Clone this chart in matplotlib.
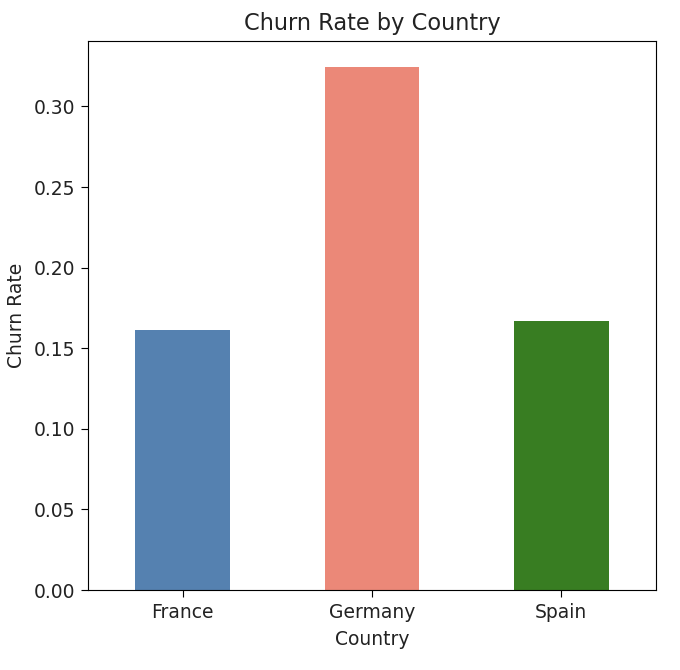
import matplotlib
matplotlib.use("Agg")
import matplotlib.pyplot as plt

countries = ["France", "Germany", "Spain"]
churn_rate = [0.1615, 0.3244, 0.1667]
colors = ["#5581b0", "#eb8878", "#387d22"]
yticks = [0.0, 0.05, 0.10, 0.15, 0.20, 0.25, 0.30]

DPI = 135
plt.rcParams["axes.linewidth"] = 0.6
plt.rcParams["xtick.major.width"] = 0.6
plt.rcParams["ytick.major.width"] = 0.6
plt.rcParams["text.color"] = "#222222"
plt.rcParams["axes.labelcolor"] = "#222222"
plt.rcParams["xtick.labelcolor"] = "#222222"
plt.rcParams["ytick.labelcolor"] = "#222222"

fig = plt.figure(figsize=(680 / DPI, 670 / DPI), dpi=DPI)
ax = fig.add_axes([88/680, 1 - 590/670, (656-88)/680, (590-41)/670])
x = list(range(len(countries)))
ax.bar(x, churn_rate, width=0.5, color=colors)
ax.set_xlim(-0.5, len(countries) - 0.5)
ax.set_ylim(0, max(churn_rate) * 1.05)
ax.set_xticks(x)
ax.set_xticklabels(countries, rotation=0)
ax.set_yticks(yticks)
ax.set_yticklabels([f"{v:.2f}" for v in yticks])
ax.set_xlabel("Country")
ax.set_ylabel("Churn Rate")
ax.set_title("Churn Rate by Country")
fig.savefig("out.png", dpi=DPI)
